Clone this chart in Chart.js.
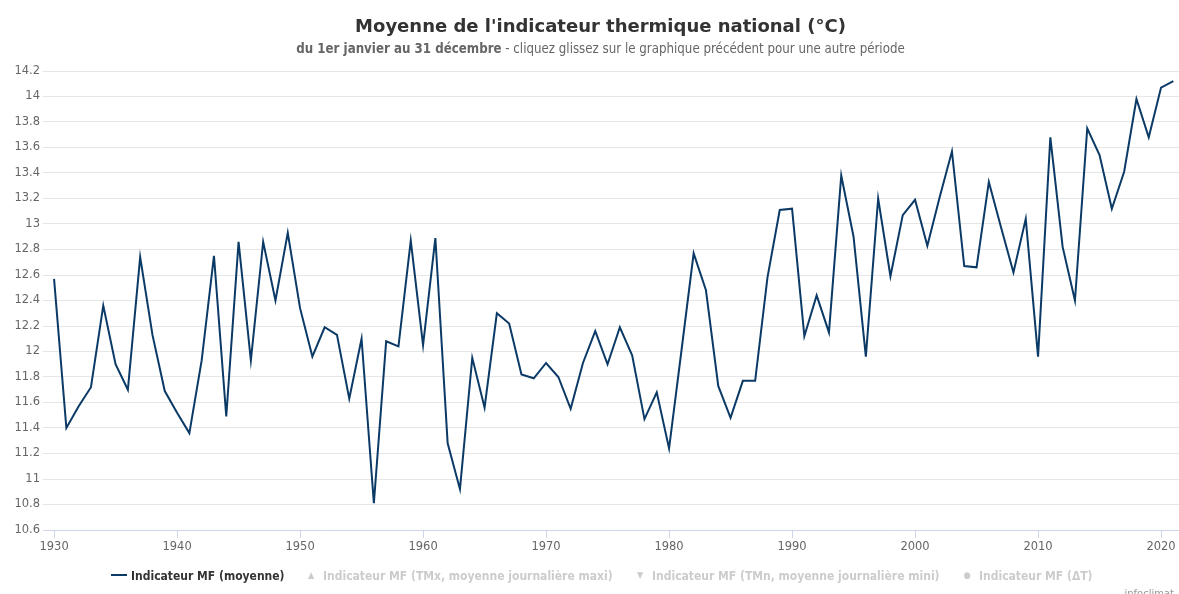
<!DOCTYPE html>
<html>
<head>
<meta charset="utf-8">
<script src="https://cdn.jsdelivr.net/npm/chart.js@4/dist/chart.umd.min.js"></script>
<style>
  html, body { margin: 0; padding: 0; background: #fff; }
  body { width: 1179px; height: 594px; position: relative; overflow: hidden; font-family: "DejaVu Sans", sans-serif; }
  #wrap { position: absolute; left: 0; top: 0; width: 1179px; height: 594px; }
  .title { position: absolute; left: 11px; width: 1179px; top: 15px; text-align: center; font-size: 18px; font-weight: bold; color: #333; white-space: nowrap; }
  .subtitle { position: absolute; left: 11px; width: 1179px; top: 41px; text-align: center; font-size: 13.2px; color: #666; white-space: nowrap; font-family: "DejaVu Sans Condensed", "DejaVu Sans", sans-serif; font-stretch: condensed; }
  .subtitle b { color: #666; }
  .leg { position: absolute; top: 569px; font-size: 12px; font-weight: bold; white-space: nowrap; font-family: "DejaVu Sans Condensed", "DejaVu Sans", sans-serif; font-stretch: condensed; color: #ccc; }
  .leg .sym { display: inline-block; width: 16px; text-align: center; font-size: 9px; vertical-align: 2px; margin-right: 4px; }
  .leg .line { display: inline-block; width: 16px; height: 2px; background: #0b3a66; vertical-align: 4px; margin-right: 4px; }
  .credit { position: absolute; right: 5px; top: 588px; font-size: 10px; color: #999; }
</style>
</head>
<body>
<div id="wrap"><canvas id="c" width="1179" height="594"></canvas></div>
<div class="title">Moyenne de l'indicateur thermique national (°C)</div>
<div class="subtitle"><b>du 1er janvier au 31 décembre</b> - cliquez glissez sur le graphique précédent pour une autre période</div>
<div class="leg" style="left:111px;color:#333"><span class="line"></span>Indicateur MF (moyenne)</div>
<div class="leg" style="left:303px"><span class="sym">▲</span>Indicateur MF (TMx, moyenne journalière maxi)</div>
<div class="leg" style="left:632px"><span class="sym">▼</span>Indicateur MF (TMn, moyenne journalière mini)</div>
<div class="leg" style="left:959px"><span class="sym">●</span>Indicateur MF (ΔT)</div>
<div class="credit">infoclimat</div>
<script>
const years = [1930,1931,1932,1933,1934,1935,1936,1937,1938,1939,
  1940,1941,1942,1943,1944,1945,1946,1947,1948,1949,
  1950,1951,1952,1953,1954,1955,1956,1957,1958,1959,
  1960,1961,1962,1963,1964,1965,1966,1967,1968,1969,
  1970,1971,1972,1973,1974,1975,1976,1977,1978,1979,
  1980,1981,1982,1983,1984,1985,1986,1987,1988,1989,
  1990,1991,1992,1993,1994,1995,1996,1997,1998,1999,
  2000,2001,2002,2003,2004,2005,2006,2007,2008,2009,
  2010,2011,2012,2013,2014,2015,2016,2017,2018,2019,
  2020,2021];
const moyenne = [12.57,11.40,11.57,11.72,12.36,11.90,11.70,12.74,12.13,11.69,
  11.52,11.36,11.93,12.75,11.49,12.86,11.93,12.86,12.40,12.93,
  12.34,11.96,12.19,12.13,11.63,12.10,10.81,12.08,12.04,12.87,
  12.05,12.89,11.28,10.92,11.95,11.56,12.30,12.22,11.82,11.79,
  11.91,11.80,11.55,11.91,12.16,11.90,12.19,11.97,11.47,11.68,
  11.24,12.00,12.77,12.48,11.73,11.48,11.77,11.77,12.58,13.11,
  13.12,12.12,12.44,12.15,13.38,12.90,11.96,13.20,12.59,13.07,
  13.19,12.83,13.21,13.57,12.67,12.66,13.33,12.97,12.62,13.04,
  11.96,13.68,12.82,12.40,13.75,13.54,13.12,13.41,13.98,13.68,
  14.07,14.12];
const xTicks = [1930,1940,1950,1960,1970,1980,1990,2000,2010,2020];
const yTicks = [10.6,10.8,11,11.2,11.4,11.6,11.8,12,12.2,12.4,12.6,12.8,13,13.2,13.4,13.6,13.8,14,14.2];

new Chart(document.getElementById('c'), {
  type: 'line',
  data: {
    datasets: [{
      label: 'Indicateur MF (moyenne)',
      data: years.map((y, i) => ({ x: y, y: moyenne[i] })),
      borderColor: '#0b3a66',
      borderWidth: 2,
      pointRadius: 0,
      tension: 0,
      fill: false
    }]
  },
  options: {
    responsive: false,
    animation: false,
    layout: { padding: { top: 71, bottom: 34, left: 0, right: 0 } },
    plugins: { legend: { display: false }, tooltip: { enabled: false }, title: { display: false } },
    scales: {
      x: {
        type: 'linear',
        min: 1929.1,
        max: 2021.46,
        afterBuildTicks: s => { s.ticks = xTicks.map(v => ({ value: v })); },
        afterFit: s => { s.height = 30; },
        ticks: { color: '#666', font: { family: 'DejaVu Sans', size: 11.5 }, padding: 2, maxRotation: 0, autoSkip: false, callback: v => String(v) },
        grid: { drawOnChartArea: false, color: '#ccd6eb', tickLength: 8 },
        border: { color: '#ccd6eb', width: 1 }
      },
      y: {
        type: 'linear',
        min: 10.6,
        max: 14.2,
        afterBuildTicks: s => { s.ticks = yTicks.map(v => ({ value: v })); },
        afterFit: s => { s.width = 43; },
        ticks: { color: '#666', font: { family: 'DejaVu Sans', size: 11.5 }, padding: 3, autoSkip: false, callback: v => String(+v.toFixed(1)) },
        grid: { color: '#e6e6e6', drawTicks: false },
        border: { display: false }
      }
    }
  }
});
</script>
</body>
</html>
